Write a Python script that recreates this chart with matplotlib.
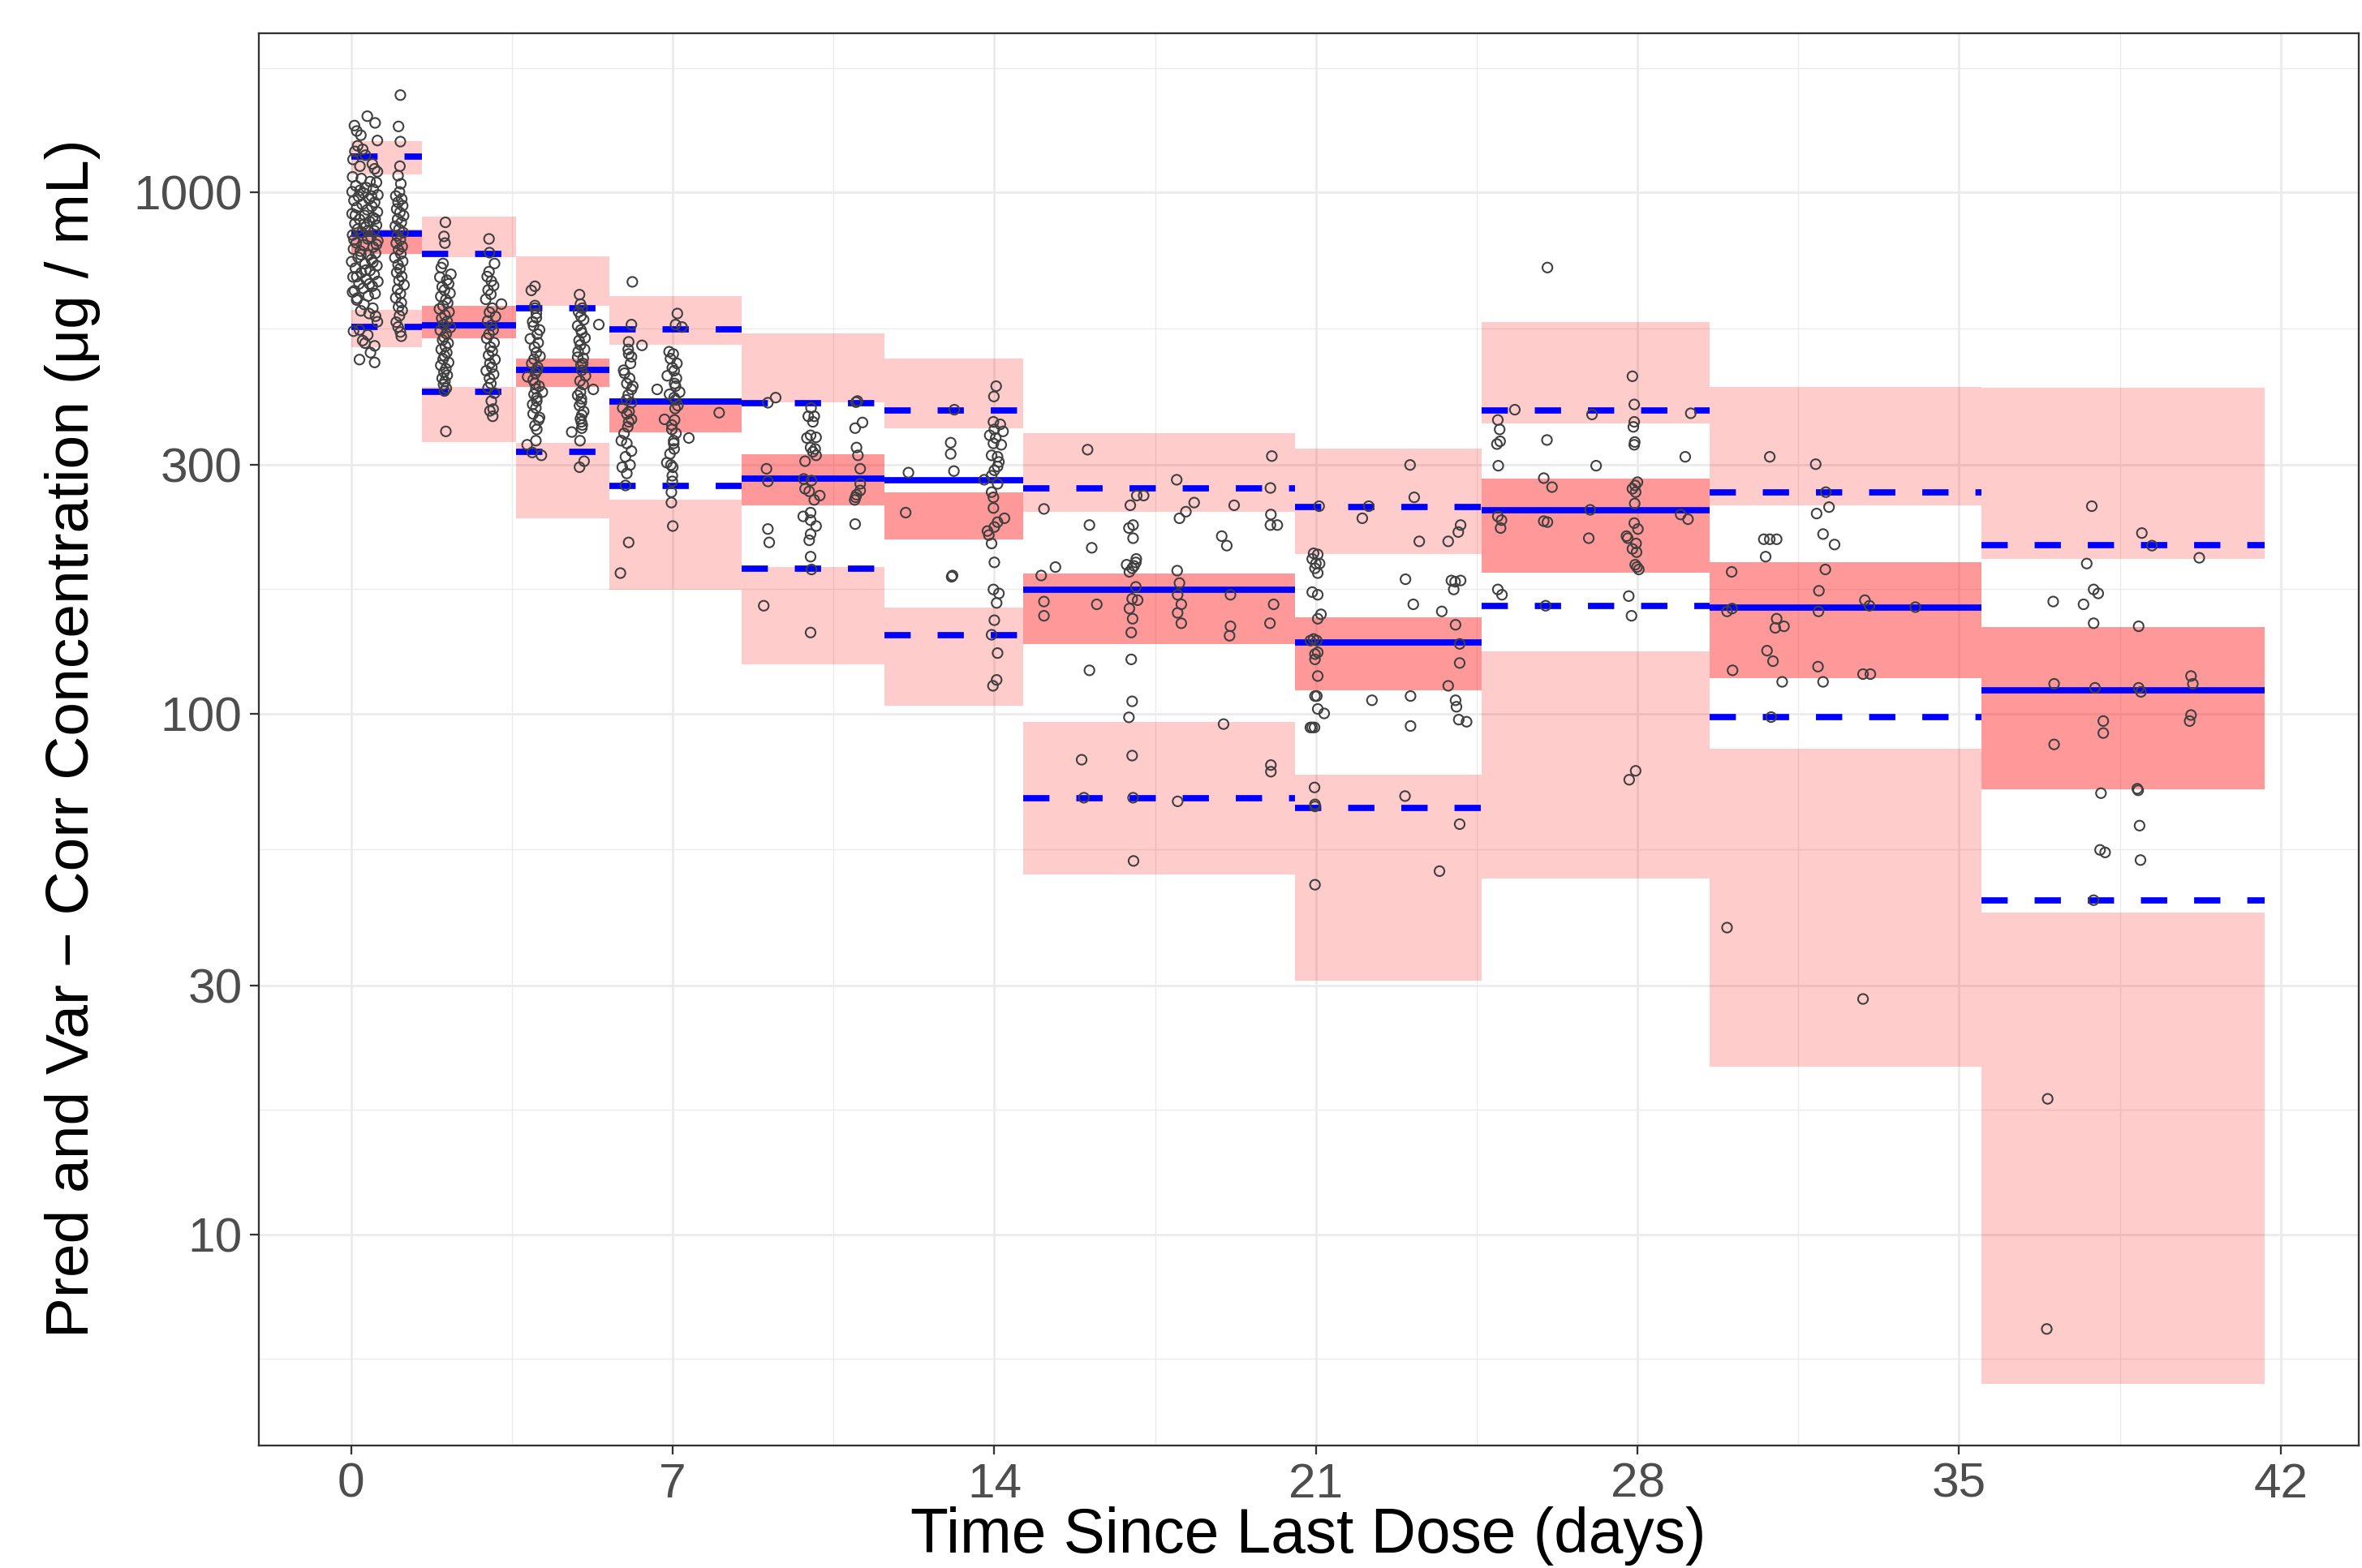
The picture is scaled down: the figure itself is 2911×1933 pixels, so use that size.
"""
VPC-style plot: observed concentrations vs time since last dose,
with binned simulated CIs (pink) and observed percentiles (blue).
"""
import numpy as np
import matplotlib
matplotlib.use("Agg")
import matplotlib.pyplot as plt
from matplotlib.ticker import FixedLocator, NullFormatter

plt.rcParams["font.family"] = ["Liberation Sans", "DejaVu Sans"]

# ── Bins ────────────────────────────────────────────────────────────────
BIN_EDGES = [0, 1.54, 3.59, 5.62, 8.5, 11.61, 14.62, 20.55, 24.61, 29.57, 35.48, 41.65]

# observed percentiles per bin (blue lines)
OBS_MED = [835, 557, 456, 397, 282, 280, 172.5, 136.9, 245.5, 159.8, 110.8]
OBS_HI = [1173, 762, 599, 547, 394.5, 382, 271, 249.3, 382, 266, 210.4]
OBS_LO = [553, 414, 318, 273, 189.6, 141.6, 68.8, 65.9, 160.9, 98.3, 43.8]

# simulated CIs per bin (pink boxes)
HI_CI_TOP = [1256, 901, 755, 633, 537, 481, 345, 322.8, 565, 424, 422.7]
HI_CI_BOT = [1082, 753, 607, 511, 395, 353, 244, 202.3, 361, 250.6, 197.8]
MED_CI_TOP = [850, 606, 480, 403, 314, 266, 185.7, 152.8, 282.4, 195.4, 146.4]
MED_CI_BOT = [763, 526, 424, 347, 251, 215.7, 135.7, 110.7, 186.6, 117.1, 71.5]
LO_CI_TOP = [596, 423, 331, 257, 191, 159.7, 96.3, 76.4, 131.5, 85.5, 41.5]
LO_CI_BOT = [505, 332, 237, 173, 124.3, 103.6, 49.0, 30.7, 48.2, 21.0, 5.17]

# ── Observations (time in days, concentration) ─────────────────────────
d0_t = [0.07, 0.12, 0.21, 0.35, 0.52, 0.57, 0.08, 0.25, 0.19, 0.51, 0.57, 0.04, 0.31, 0.46, 0.14,
        0.03, 0.22, 0.41, 0.55, 0.10, 0.33, 0.48, 0.02, 0.27, 0.58, 0.16, 0.39, 0.06, 0.51, 0.24,
        0.45, 0.12, 0.35, 0.57, 0.02, 0.29, 0.47, 0.18, 0.40, 0.08, 0.55, 0.31, 0.14, 0.50, 0.23,
        0.03, 0.43, 0.36, 0.58, 0.11, 0.27, 0.48, 0.05, 0.20, 0.53, 0.38, 0.15, 0.44, 0.01, 0.30,
        0.56, 0.09, 0.41, 0.22, 0.50, 0.04, 0.33, 0.58, 0.17, 0.46, 0.26, 0.07, 0.52, 0.37, 0.13,
        0.19, 0.44, 0.09, 0.52, 0.28, 0.36, 0.06, 0.55, 0.21, 0.47, 0.32, 0.12, 0.40,
        0.03, 0.12, 0.21, 0.39, 0.53, 0.57, 0.18, 0.36, 0.30, 0.51, 0.18, 0.51, 0.25, 0.05, 0.42,
        0.28, 0.47]
d0_c = [1345, 1313, 1289, 1402, 1361, 1259, 1200, 1211, 1124, 1111, 1097, 1158, 1180, 1135, 1230,
        1072, 1064, 1050, 1046, 1031, 1022, 1015, 1004, 998, 990, 983, 972, 966, 958, 950,
        941, 936, 927, 918, 911, 904, 896, 889, 880, 872, 866, 858, 851, 845, 838,
        829, 822, 815, 808, 801, 794, 786, 779, 772, 765, 759, 751, 744, 737, 730,
        724, 716, 709, 702, 696, 689, 681, 675, 668, 661, 655, 648, 640, 633, 627,
        1010, 985, 905, 890, 870, 845, 812, 795, 760, 735, 710, 690, 668,
        644, 622, 593, 586, 579, 565, 545, 533, 514, 508, 478, 472, 520, 542, 493,
        610, 600]

d1_t = [1.07, 1.03, 1.07, 1.06, 1.02, 1.08, 1.05,
        0.97, 1.10, 1.02, 1.12, 0.99, 1.06, 1.14, 1.01, 1.09, 0.96, 1.04, 1.13, 1.00, 1.07,
        0.98, 1.11, 1.03, 1.08, 0.95, 1.12, 1.02, 1.06, 0.99, 1.10, 1.04, 1.15, 1.01, 1.07,
        0.97, 1.09, 1.03, 1.11, 1.05, 1.02, 1.07, 1.09, 0.98]
d1_c = [1539, 1340, 1253, 1124, 1078, 1040, 1003,
        985, 972, 958, 944, 930, 916, 903, 889, 876, 862, 850, 838, 826, 812,
        800, 788, 776, 763, 750, 738, 727, 714, 702, 690, 678, 665, 652, 640,
        628, 615, 603, 594, 580, 552, 540, 530, 564]

d2_t = [2.05, 2.02, 2.04, 2.00, 1.96, 2.17, 1.93, 2.08, 2.12, 1.98, 2.03, 2.15, 1.95, 2.06, 2.10,
        2.00, 1.92, 2.13, 2.04, 1.97, 2.09, 2.01, 2.16, 1.94, 2.07, 2.02, 1.99, 2.11, 2.05, 1.96,
        2.08, 2.03, 2.00, 2.12, 1.95, 2.06, 2.02, 2.09, 1.98, 2.04, 2.01, 2.07, 2.03, 2.06]
d2_c = [877, 824, 800, 731, 718, 697, 688, 679, 668, 659, 650, 641, 632, 623, 614,
        606, 598, 590, 582, 574, 566, 558, 551, 544, 536, 528, 521, 514, 507, 500,
        493, 486, 479, 472, 466, 459, 452, 446, 440, 434, 428, 421, 416, 348]

d3_t = [3.00, 3.01, 3.12, 3.00, 2.96, 3.05, 3.10, 2.98, 3.04, 3.27, 2.93, 3.07, 3.01, 3.14, 2.97,
        3.05, 3.09, 3.00, 2.95, 3.11, 3.03, 3.07, 2.99, 3.13, 3.02, 3.06, 2.94, 3.10, 3.01, 3.05,
        3.09, 3.02, 3.08, 3.04, 2.98, 3.12]
d3_c = [815, 767, 731, 705, 690, 676, 663, 650, 638, 611, 624, 600, 589, 578, 567,
        556, 545, 535, 525, 515, 505, 496, 487, 478, 470, 462, 455, 448, 440, 398,
        384, 381, 372, 430, 422, 412]

d4_t = [3.92, 4.00, 4.00, 4.03, 3.95, 4.10, 3.90, 4.03, 3.98, 4.05, 3.84, 4.00, 4.16, 4.04,
        4.02, 3.96, 4.08, 4.00, 4.04, 4.02, 3.83, 3.94, 4.14, 4.00, 4.03, 3.97, 4.05, 4.07,
        3.99, 4.11, 3.93, 4.06, 4.01, 3.96, 4.09, 4.02, 3.98, 4.04, 3.95, 4.10]
d4_c = [649, 661, 607, 586, 565, 545, 524, 493, 479, 456, 443, 430, 414, 404,
        386, 376, 366, 357, 351, 334, 328, 317, 313, 600, 575, 555, 535, 515,
        505, 485, 470, 462, 450, 437, 425, 420, 410, 398, 392, 370]

d5_t = [4.97, 4.99, 5.00, 5.39, 4.93, 5.02, 5.09, 4.99, 4.93, 5.05, 5.00, 5.02, 5.27, 4.99,
        5.01, 4.97, 5.02, 5.01, 5.02, 4.80, 4.98, 5.07, 4.97, 5.03, 4.95, 5.06, 5.00, 4.96,
        5.08, 4.94, 5.04, 5.10, 4.98, 5.05, 4.93, 5.01, 5.06, 4.99, 5.03]
d5_c = [637, 611, 579, 558, 555, 538, 526, 510, 483, 481, 467, 456, 419, 414,
        402, 390, 374, 363, 353, 347, 334, 305, 297, 600, 590, 570, 545, 520,
        500, 495, 470, 445, 435, 428, 408, 396, 380, 368, 358]

d6_t = [6.12, 6.10, 6.04, 6.33, 6.04, 6.10, 5.93, 6.06, 6.00, 6.10, 6.03, 6.10, 5.91, 6.00,
        6.10, 6.04, 5.88, 6.00, 6.10, 5.97, 6.07, 5.90, 6.00, 5.97, 6.04, 5.86, 6.03, 6.08,
        5.95, 6.13, 5.99, 6.05, 6.02, 5.94]
d6_c = [674, 558, 517, 509, 490, 484, 456, 440, 430, 419, 409, 395, 386, 376,
        367, 363, 334, 330, 319, 311, 300, 297, 289, 274, 213, 186, 500, 470,
        450, 425, 400, 380, 355, 345]

d7_t = [7.10, 7.06, 7.20, 6.92, 6.99, 6.88, 7.08, 7.04, 7.06, 6.66, 7.15, 7.03, 7.06, 6.82,
        7.04, 6.98, 7.35, 7.02, 7.03, 6.87, 6.96, 7.00, 6.99, 6.99, 6.97, 6.97, 7.00, 8.01,
        7.01, 6.95, 7.09, 7.03, 6.93, 7.11, 7.05, 6.98, 7.07, 7.02, 6.94]
d7_c = [586, 558, 552, 495, 461, 445, 440, 430, 425, 419, 414, 404, 400, 367,
        366, 351, 338, 334, 322, 303, 300, 297, 286, 279, 266, 254, 229, 378,
        490, 480, 470, 455, 410, 390, 385, 358, 345, 330, 315]

b5_t = [9.07, 9.24, 9.04, 9.07, 9.07, 9.10, 8.98, 10.01, 9.95, 10.08, 10.05, 9.92, 10.00, 10.12,
        10.00, 10.10, 10.05, 10.12, 9.88, 9.85, 10.02, 9.88, 9.97, 10.20, 10.08, 9.84, 10.00,
        10.00, 10.12, 10.00, 9.97, 10.00, 10.02, 10.00, 10.99, 11.02, 11.13, 10.97, 11.00, 11.03,
        11.08, 11.08, 11.08, 11.00, 10.98, 10.96, 10.97]
b5_c = [395, 404, 295, 279, 226, 213, 161, 386, 372, 372, 363, 338, 342, 339,
        324, 322, 318, 313, 305, 282, 280, 270, 267, 262, 257, 239, 243,
        235, 229, 221, 215, 200, 189, 143, 396, 398, 362, 353, 324, 313,
        295, 276, 268, 263, 260, 257, 231]

b6_t = [12.13, 12.07, 13.13, 13.05, 13.05, 13.12, 13.07, 13.09,
        14.04, 13.99, 13.98, 14.13, 14.19, 14.00, 13.90, 14.03, 13.98, 14.15, 13.94, 14.07,
        14.10, 14.07, 14.00, 13.94, 13.78, 14.07, 13.94, 13.98, 13.98, 14.22, 14.07, 14.00,
        13.85, 13.88, 13.94, 14.00, 13.98, 14.10, 14.05, 14.00, 13.94, 14.07, 14.05, 13.97]
b6_c = [290, 243, 383, 331, 315, 292, 183, 184,
        425, 406, 363, 359, 348, 351, 342, 338, 330, 328, 313, 311,
        304, 298, 293, 286, 281, 276, 266, 260, 248, 237, 233, 228,
        224, 220, 212, 195, 173, 170, 163, 151, 141.6, 130.6, 116, 113]

b7_t = [16.03, 15.08, 16.07, 16.12, 15.33, 15.02, 15.08, 15.08, 16.23, 16.07, 15.90, 15.95,
        16.96, 16.93, 17.02, 17.02, 17.10, 17.25, 16.88, 16.94, 17.00, 17.04, 17.09, 17.08,
        17.08, 17.12, 17.00, 16.94, 17.01, 16.98, 16.98, 17.00, 16.93, 17.00, 17.02, 17.03,
        17.97, 18.35, 18.17, 18.03, 17.98, 18.03, 17.99, 18.07, 17.99, 18.07, 17.99,
        19.22, 18.95, 19.06, 19.14, 19.14, 19.12, 18.99,
        20.04, 20.01, 20.02, 20.01, 20.16, 20.08, 20.00, 20.02, 20.02]
b7_c = [321, 247, 230, 208, 191, 184, 164, 154, 162, 121, 81.5, 68.9,
        251, 227, 230, 217, 262, 262, 193, 187, 190, 192, 198, 195,
        175, 165, 166, 159, 152, 143, 127, 105.5, 98.3, 83, 68.9, 52.1,
        281, 254, 244, 237, 188, 178, 169, 162, 156, 149, 67.8,
        251, 219, 210, 169, 147, 141, 95.4,
        312, 271, 241, 230, 230, 162, 149, 79.6, 77.3]

b8_t = [21.07, 20.95, 21.04, 20.92, 21.00, 21.08, 21.04, 20.98, 20.92, 21.04, 21.11, 21.04,
        20.88, 20.95, 21.02, 20.98, 21.04, 20.98, 21.04, 21.02, 20.98, 21.04, 21.18, 20.88,
        20.92, 20.97, 20.97, 20.98, 20.98, 20.98,
        23.05, 23.14, 23.25, 22.15, 22.01, 22.95, 23.12, 22.22, 23.06, 23.06, 22.94, 23.69,
        23.88, 24.10, 23.95, 24.03, 24.00, 23.74, 24.04, 24.13, 24.13, 23.88, 24.04, 24.06,
        24.11, 24.28, 24.13, 24.15, 24.15]
b8_c = [250, 203, 202, 198, 194, 194, 186, 190, 171, 169, 155, 152,
        138, 139, 138, 130, 131, 127, 118, 108, 108, 102, 100, 94,
        94, 94, 72.1, 66.9, 66.3, 46.9,
        300, 260, 214, 250, 237, 181, 162, 106, 108, 94.6, 69.4, 49.8,
        214, 223, 180, 179, 173, 157, 148, 136, 125, 113, 106, 103,
        97.3, 96.4, 61.3, 230, 180]

b9_t = [26.04, 25.33, 24.96, 25.00, 25.01, 24.94, 24.97, 24.96, 25.04, 25.02, 24.96, 25.05,
        26.03, 25.96, 26.14, 25.96, 26.04, 26.00, 27.01, 27.10, 26.97, 26.94,
        27.89, 27.93, 27.93, 27.91, 27.94, 27.93, 28.00, 27.95, 27.89, 27.96, 27.94, 27.93,
        28.01, 27.76, 27.79, 27.97, 27.89, 27.98, 27.95, 27.99, 28.03, 27.81, 27.87, 27.96,
        27.82, 29.04, 29.16, 28.94, 29.10]
b9_c = [718, 383, 366, 351, 333, 329, 299, 239, 235, 227, 173, 169,
        335, 283, 272, 234, 233, 161, 375, 299, 246, 217,
        444, 392, 363, 355, 332, 328, 278, 274, 270, 266, 253, 232,
        226, 219, 217, 212, 207, 204, 193, 191, 189, 168, 154, 77.6,
        74.6, 311, 377, 241, 236]

b10_t = [30.88, 31.88, 32.10, 32.17, 31.90, 32.04, 32.29, 30.75, 30.88, 31.03, 30.79, 30.05,
         32.09, 31.95, 29.95, 30.06, 31.94, 32.95, 33.05, 34.05, 31.03, 31.19, 31.00, 30.82,
         30.95, 30.07, 31.93, 31.15, 32.04, 32.91, 33.07, 30.91, 29.95, 32.91]
b10_c = [311, 301, 266, 249, 242, 221, 211, 216, 216, 216, 200, 187,
         189, 172, 157, 159, 157, 165, 161, 160, 152, 147, 146, 132,
         126, 121, 123, 115, 115, 119, 119, 98.4, 38.8, 28.3]

b11_t = [37.89, 38.98, 39.20, 40.23, 37.78, 37.93, 38.03, 37.71, 37.05, 37.93, 38.91, 37.07,
         37.96, 38.91, 38.96, 40.05, 40.09, 38.14, 38.14, 40.02, 40.05, 37.07, 38.88, 38.90,
         38.09, 38.93, 38.07, 38.18, 38.95, 37.93, 36.93, 36.91]
b11_c = [250, 222, 210, 199, 194, 173, 170, 162, 164, 149, 147, 114,
         112, 112, 110, 118, 114, 96.7, 91.7, 96.7, 99.3, 87.2, 71.7, 71.2,
         70.3, 60.9, 54.7, 54.1, 52.3, 43.8, 18.2, 6.58]

obs_t = np.concatenate([d0_t, d1_t, d2_t, d3_t, d4_t, d5_t, d6_t, d7_t,
                        b5_t, b6_t, b7_t, b8_t, b9_t, b10_t, b11_t])
obs_c = np.concatenate([d0_c, d1_c, d2_c, d3_c, d4_c, d5_c, d6_c, d7_c,
                        b5_c, b6_c, b7_c, b8_c, b9_c, b10_c, b11_c])

# ── Figure ──────────────────────────────────────────────────────────────
fig = plt.figure(figsize=(2911 / 300, 1933 / 300), dpi=300)
ax = fig.add_axes([0.1096, 0.0781, 0.9986 - 0.1096, 0.9788 - 0.0781])
ax.set_yscale("log")

edges = np.array(BIN_EDGES)
left, width = edges[:-1], np.diff(edges)

def band(top, bot, alpha):
    top, bot = np.array(top), np.array(bot)
    ax.bar(left, top - bot, width=width, bottom=bot, align="edge",
           color="red", alpha=alpha, linewidth=0, zorder=2)

band(HI_CI_TOP, HI_CI_BOT, 0.2)
band(LO_CI_TOP, LO_CI_BOT, 0.2)
band(MED_CI_TOP, MED_CI_BOT, 0.4)

for i in range(len(left)):
    x = [edges[i], edges[i + 1]]
    ax.plot(x, [OBS_MED[i]] * 2, color="blue", lw=1.85, solid_capstyle="butt", zorder=3)
    for v in (OBS_HI[i], OBS_LO[i]):
        ax.plot(x, [v, v], color="blue", lw=1.85, ls=(0, (4.2, 4.3)),
                dash_capstyle="butt", zorder=3)

ax.scatter(obs_t, obs_c, s=8.5, facecolors="none", edgecolors="#404040",
           linewidths=0.5, zorder=4)

# axes / grid (ggplot theme_bw look)
ax.set_xlim(-2.01, 43.7)
ax.set_ylim(3.93, 2023)
ax.xaxis.set_major_locator(FixedLocator([0, 7, 14, 21, 28, 35, 42]))
ax.xaxis.set_minor_locator(FixedLocator([3.5, 10.5, 17.5, 24.5, 31.5, 38.5]))
ax.yaxis.set_major_locator(FixedLocator([10, 30, 100, 300, 1000]))
ax.yaxis.set_minor_locator(FixedLocator(10 ** np.array([0.761, 1.239, 1.739, 2.239, 2.739, 3.239])))
ax.yaxis.set_minor_formatter(NullFormatter())
ax.set_yticklabels(["10", "30", "100", "300", "1000"])

ax.grid(which="major", color="#EBEBEB", lw=0.65, zorder=0)
ax.grid(which="minor", color="#EBEBEB", lw=0.33, zorder=0)
ax.set_axisbelow(True)

for s in ax.spines.values():
    s.set_color("#333333")
    s.set_linewidth(0.55)
ax.tick_params(which="major", length=2.75, width=0.55, color="#333333",
               labelsize=14.5, labelcolor="#4D4D4D", pad=2.2)
ax.tick_params(which="minor", length=0)

fig.text(0.554, 0.0098, "Time Since Last Dose (days)", ha="center", va="baseline",
         fontsize=18.4)
fig.text(0.0306, 0.5289, "Pred and Var \u2212 Corr Concentration (\u03bcg / mL)",
         rotation=90, ha="center", va="center", fontsize=18)

fig.savefig("out.png", dpi=300)
